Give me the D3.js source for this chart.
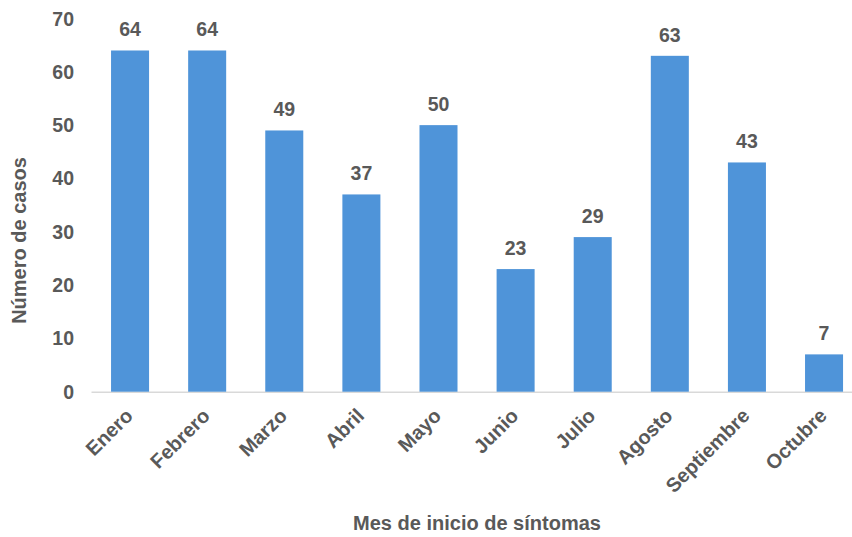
<!DOCTYPE html>
<html><head><meta charset="utf-8">
<script src="https://cdn.jsdelivr.net/npm/d3@7"></script>
<style>body{margin:0;background:#fff}svg{display:block}text{font-family:"Liberation Sans",Arial,sans-serif;font-weight:bold;fill:#595959}</style>
</head><body>
<script>
const months = ["Enero","Febrero","Marzo","Abril","Mayo","Junio","Julio","Agosto","Septiembre","Octubre"];
const casos = [64,64,49,37,50,23,29,63,43,7];
const yTicks = [0,10,20,30,40,50,60,70];

const W=852,H=537;
const svg=d3.select("body").append("svg").attr("width",W).attr("height",H);
const x=d3.scaleBand().domain(months).range([91.5,862.6]).paddingInner(0.507).paddingOuter(0.2535);
const y=d3.scaleLinear().domain([0,70]).range([391.7,18.5]);

svg.append("line").attr("x1",91.5).attr("x2",862.6).attr("y1",y(0)+0.5).attr("y2",y(0)+0.5).attr("stroke","#d9d9d9").attr("stroke-width",1.5);

svg.selectAll("rect.bar").data(casos).enter().append("rect")
 .attr("x",(d,i)=>x(months[i])).attr("width",x.bandwidth())
 .attr("y",d=>y(d)).attr("height",d=>y(0)-y(d)).attr("fill","#4f94d9");

svg.selectAll("text.val").data(casos).enter().append("text")
 .attr("x",(d,i)=>x(months[i])+x.bandwidth()/2).attr("y",d=>y(d)-14)
 .attr("text-anchor","middle").style("font-size","19.5px").text(d=>d);

svg.selectAll("text.yt").data(yTicks).enter().append("text")
 .attr("x",74).attr("y",d=>y(d)).attr("dy","0.36em").attr("text-anchor","end")
 .style("font-size","19.5px").text(d=>d);

svg.selectAll("text.xt").data(months).enter().append("text")
 .attr("transform",d=>`translate(${x(d)+x.bandwidth()/2+4},${417}) rotate(-45)`)
 .attr("text-anchor","end").style("font-size","20px").text(d=>d);

svg.append("text").attr("x",477).attr("y",530).attr("text-anchor","middle").style("font-size","20px").text("Mes de inicio de síntomas");
svg.append("text").attr("transform","translate(26,240.5) rotate(-90)").attr("text-anchor","middle").style("font-size","20px").text("Número de casos");
</script>
</body></html>
